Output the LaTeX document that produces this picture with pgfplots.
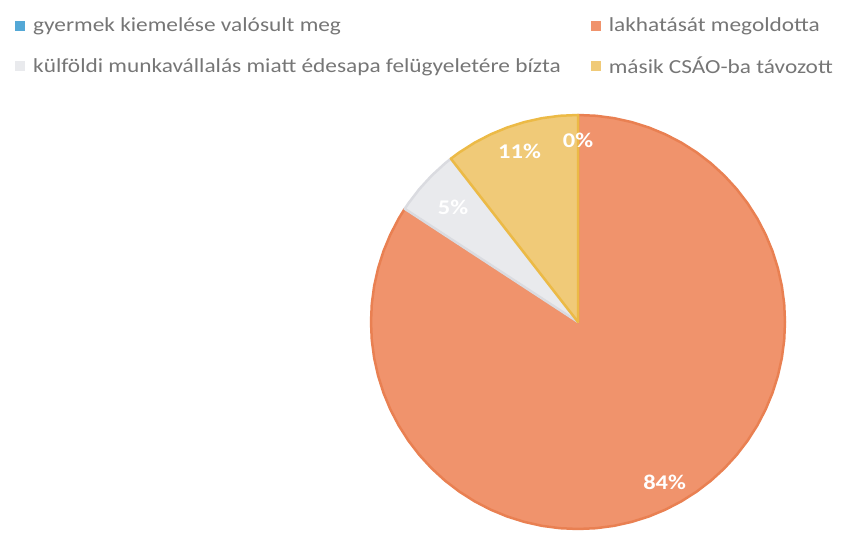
\documentclass[border=0pt]{standalone}
\usepackage{fontspec}
\setmainfont{Carlito}[FakeStretch=1.17]
\usepackage{pgfplots}
\pgfplotsset{compat=1.18}
\definecolor{sliceblue}{RGB}{84,168,214}
\definecolor{sliceorange}{RGB}{240,147,108}
\definecolor{edgeorange}{RGB}{233,128,82}
\definecolor{slicegray}{RGB}{233,234,237}
\definecolor{edgegray}{RGB}{218,219,224}
\definecolor{sliceyellow}{RGB}{240,202,120}
\definecolor{edgeyellow}{RGB}{236,186,70}
\definecolor{legendtext}{RGB}{118,118,118}
\begin{document}
\begin{tikzpicture}
\useasboundingbox (0bp,0bp) rectangle (842bp,533bp);
% counts 0 / 16 / 1 / 2 out of 19 -> 0% / 84% / 5% / 11%, clockwise from 12 o'clock
\begin{axis}[
    at={(578bp,211bp)}, anchor=center,
    scale only axis, width=414bp, height=414bp,
    xmin=-1, xmax=1, ymin=-1, ymax=1,
    hide axis, clip=false,
    data cs=polar,
    legend columns=2,
    legend image code/.code={\fill[#1,draw=none] (0bp,-5bp) rectangle (10bp,5bp);},
    legend style={
        at={(-0.860,1.2350)}, anchor=north west,
        draw=none, fill=none, inner sep=0pt,
        font=\fontsize{20}{24}\selectfont, text=legendtext,
        nodes={inner sep=0pt}, cells={anchor=west},
        row sep=24bp,
        /tikz/every odd column/.append style={column sep=8bp},
        /tikz/every even column/.append style={column sep=30bp},
    },
]
\addplot[fill=sliceblue, draw=none] coordinates {(0,0) (90,1)};
\addlegendentry{gyermek kiemelése valósult meg}
\addplot[fill=sliceorange, draw=edgeorange, line width=2.5bp, line join=round] coordinates {
  (0,0) (90,1) (85,1) (80,1) (75,1) (70,1) (65,1) (60,1) (55,1) (50,1) (45,1)
  (40,1) (35,1) (30,1) (25,1) (20,1) (15,1) (10,1) (5,1) (0,1) (-5,1) (-10,1)
  (-15,1) (-20,1) (-25,1) (-30,1) (-35,1) (-40,1) (-45,1) (-50,1) (-55,1)
  (-60,1) (-65,1) (-70,1) (-75,1) (-80,1) (-85,1) (-90,1) (-95,1) (-100,1)
  (-105,1) (-110,1) (-115,1) (-120,1) (-125,1) (-130,1) (-135,1) (-140,1)
  (-145,1) (-150,1) (-155,1) (-160,1) (-165,1) (-170,1) (-175,1) (-180,1)
  (-185,1) (-190,1) (-195,1) (-200,1) (-205,1) (-210,1) (-213.16,1)
} -- cycle;
\addlegendentry{lakhatását megoldotta}
\addplot[fill=slicegray, draw=edgegray, line width=2.5bp, line join=round] coordinates {
  (0,0) (146.84,1) (145,1) (140,1) (135,1) (130,1) (127.89,1)
} -- cycle;
\addlegendentry{külföldi munkavállalás miatt édesapa felügyeletére bízta}
\addplot[fill=sliceyellow, draw=edgeyellow, line width=2.5bp, line join=round] coordinates {
  (0,0) (127.89,1) (125,1) (120,1) (115,1) (110,1) (105,1) (100,1) (95,1) (90,1)
} -- cycle;
\addlegendentry{másik CSÁO-ba távozott}
\addplot[draw=none, mark=none, forget plot,
    nodes near coords, point meta=explicit symbolic,
    nodes near coords style={anchor=center, text=white, font=\fontsize{21}{24}\selectfont\bfseries}]
  coordinates {(90,0.875)[0\%] (108.95,0.87)[11\%] (137.4,0.82)[5\%] (-61.6,0.88)[84\%]};
\end{axis}
\end{tikzpicture}
\end{document}
